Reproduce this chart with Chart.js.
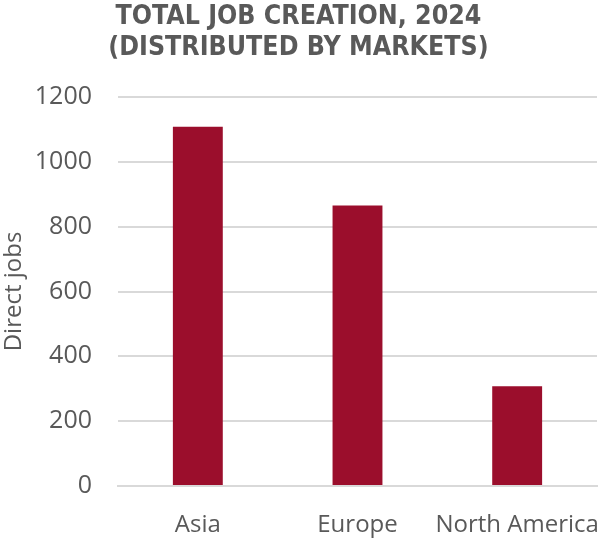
<!DOCTYPE html>
<html>
<head>
<meta charset="utf-8">
<script src="https://cdn.jsdelivr.net/npm/chart.js@4"></script>
<style>
html,body{margin:0;padding:0;background:#fff;}
#wrap{width:603px;height:538px;position:relative;}
</style>
</head>
<body>
<div id="wrap"><canvas id="c"></canvas></div>
<script>
const categories = ["Asia", "Europe", "North America"];
const directJobs = [1108, 865, 308];
const titleLines = ["TOTAL JOB CREATION, 2024", "(DISTRIBUTED BY MARKETS)"];
const yAxisTitle = "Direct jobs";

new Chart(document.getElementById('c'), {
  type: 'bar',
  data: {
    labels: categories,
    datasets: [{
      data: directJobs,
      backgroundColor: '#9b0e2c',
      borderWidth: 0,
      barPercentage: 0.625,
      categoryPercentage: 0.5
    }]
  },
  options: {
    responsive: true,
    maintainAspectRatio: false,
    animation: false,
    layout: { padding: { left: 0, right: 6, top: 2, bottom: 0 } },
    plugins: {
      legend: { display: false },
      tooltip: { enabled: false },
      title: {
        display: true,
        text: titleLines,
        color: '#595959',
        font: { family: '"DejaVu Sans Condensed", "DejaVu Sans"', size: 26.5, weight: 'bold', lineHeight: 1.17 },
        padding: { top: 0, bottom: 33 }
      }
    },
    scales: {
      x: {
        afterFit: s => { s.height = 52; },
        grid: { display: true, drawOnChartArea: false, drawTicks: true, tickLength: 25, color: 'rgba(0,0,0,0)' },
        border: { display: true, color: '#d9d9d9', width: 2 },
        ticks: { color: '#595959', font: { family: '"Open Sans"', size: 24 }, padding: 0, maxRotation: 0, autoSkip: false }
      },
      y: {
        min: 0, max: 1200,
        afterFit: s => { s.width = 118; },
        ticks: { stepSize: 200, color: '#595959', font: { family: '"Open Sans"', size: 25 }, padding: 26,
                 callback: v => String(v) },
        grid: { color: '#d9d9d9', lineWidth: 2, drawTicks: false },
        border: { display: false },
        title: { display: true, text: yAxisTitle, color: '#595959', font: { family: '"Open Sans"', size: 24 }, padding: { top: 0, bottom: 4 } }
      }
    }
  }
});
</script>
</body>
</html>
